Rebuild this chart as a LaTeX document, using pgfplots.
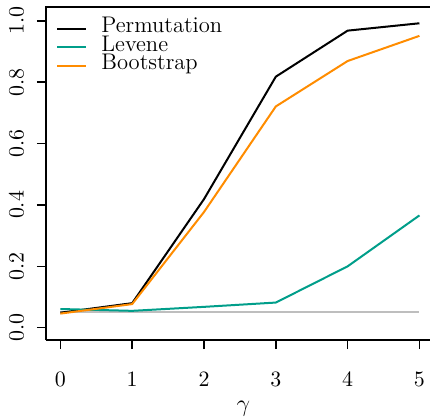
\documentclass[border=0pt]{standalone}
\usepackage{pgfplots}
\pgfplotsset{compat=1.18}
\definecolor{teal1}{RGB}{0,158,138}
\definecolor{orng}{RGB}{255,140,0}
\definecolor{gry}{RGB}{190,190,190}
\newcommand{\fs}{\fontsize{11.3}{13}\selectfont}
\begin{document}
\begin{tikzpicture}
\begin{axis}[
  at={(0,0)}, anchor=south west,
  scale only axis, width=197.5pt, height=166.5pt,
  xmin=-0.2, xmax=5.3, ymin=-0.04, ymax=1.045,
  axis x line*=bottom, axis y line*=left,
  axis line style={line width=0.7pt},
  xtick={0,1,2,3,4,5},
  ytick={0,0.2,0.4,0.6,0.8,1.0},
  yticklabel style={/pgf/number format/fixed, /pgf/number format/precision=1, /pgf/number format/fixed zerofill},
  tick align=outside, major tick length=4.5pt,
  tick style={line width=0.7pt, black},
  xticklabel style={font=\fs, anchor=north, inner sep=0pt, yshift=-11.5pt},
  yticklabel style={font=\fs, rotate=90, anchor=south, inner sep=0pt, yshift=6.5pt},
  xlabel={$\gamma$},
  every axis x label/.style={at={(axis description cs:0.5,0)}, anchor=center, yshift=-34.5pt, font=\fontsize{12}{14}\selectfont},
  legend cell align=left,
  legend style={draw=none, fill=none, font=\fs, at={(rel axis cs:0,1)}, anchor=north west, xshift=2pt, yshift=-4pt,
    nodes={inner sep=0pt, text height=6.6pt, text depth=2.65pt}, column sep=0pt},
  legend image code/.code={\draw[#1] (0pt,0pt) -- (14.5pt,0pt);},
  clip=false,
]
\draw[line width=0.7pt, line cap=rect] (rel axis cs:0,1) -- (rel axis cs:1,1);
\addplot[gry, line width=1pt, forget plot] coordinates {(0,0.05) (5,0.05)};
\addplot[black, line width=1pt] coordinates {(0,0.049) (1,0.080) (2,0.419) (3,0.818) (4,0.968) (5,0.992)};
\addlegendentry{\hspace{7pt}Permutation}
\addplot[teal1, line width=1pt] coordinates {(0,0.061) (1,0.055) (2,0.068) (3,0.082) (4,0.200) (5,0.366)};
\addlegendentry{\hspace{7pt}Levene}
\addplot[orng, line width=1pt] coordinates {(0,0.046) (1,0.077) (2,0.377) (3,0.721) (4,0.869) (5,0.951)};
\addlegendentry{\hspace{7pt}Bootstrap}
\end{axis}
\pgfresetboundingbox
\path[use as bounding box] (-23pt,-39.5pt) rectangle (192pt,170pt);
\end{tikzpicture}
\end{document}
